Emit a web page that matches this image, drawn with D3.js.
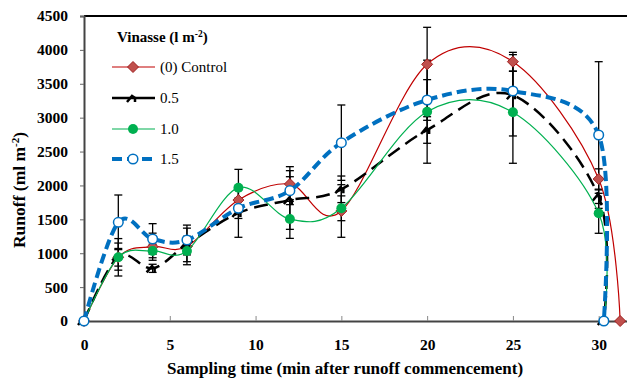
<!DOCTYPE html>
<html>
<head>
<meta charset="utf-8">
<script src="https://cdn.jsdelivr.net/npm/d3@7"></script>
<style>
  body { margin: 0; background: #fff; }
  svg text { font-family: "Liberation Serif", "Times New Roman", serif; }
</style>
</head>
<body>
<div id="chart"></div>
<script>
// sampling times (min)
const times = [0, 2, 4, 6, 9, 12, 15, 20, 25, 30];
const endControl = 31.25;
const endOther = 30.3;

const control = [0, 940, 1096, 1100, 1785, 2021, 1623, 3787, 3826, 2095];
const half = [0, 950, 777, 1130, 1593, 1785, 1943, 2818, 3330, 1834];
const one = [0, 940, 1033, 1033, 1967, 1505, 1663, 3088, 3079, 1589];
const oneHalf = [0, 1456, 1210, 1195, 1663, 1923, 2631, 3261, 3393, 2744];

const errControl = [0, 130, 200, 270, 150, 256, 388, 546, 138, 150];
const errHalf = [0, 200, 60, 120, 358, 433, 196, 196, 600, 100];
const errOne = [0, 276, 100, 158, 270, 286, 183, 760, 752, 295];
const errOneHalf = [0, 403, 226, 220, 150, 206, 556, 300, 290, 1082];

const yTicks = [0, 500, 1000, 1500, 2000, 2500, 3000, 3500, 4000, 4500];
const xTicks = [0, 5, 10, 15, 20, 25, 30];

const width = 627, height = 379;
const margin = { top: 16, right: -6, bottom: 58, left: 84 };
const innerWidth = width - margin.left - margin.right;
const innerHeight = height - margin.top - margin.bottom;

const svg = d3.select("#chart").append("svg")
  .attr("width", width)
  .attr("height", height);

const g = svg.append("g")
  .attr("transform", `translate(${margin.left},${margin.top})`);

const x = d3.scaleLinear().domain([0, 32]).range([0, innerWidth]);
const y = d3.scaleLinear().domain([0, 4500]).range([innerHeight, 0]);

// frame
g.append("line").attr("x1", 0).attr("x2", innerWidth).attr("y1", 0).attr("y2", 0)
  .attr("stroke", "#000").attr("stroke-width", 2);

// axes
const yAxis = g.append("g")
  .call(d3.axisLeft(y).tickValues(yTicks).tickSize(4).tickPadding(12).tickFormat(d3.format("d")));
yAxis.select(".domain").attr("stroke", "#444").attr("stroke-width", 2);
yAxis.selectAll(".tick line").attr("stroke", "#666");
yAxis.selectAll("text").attr("font-size", 15.5).attr("font-weight", "bold").attr("fill", "#000");

const xAxis = g.append("g")
  .attr("transform", `translate(0,${innerHeight})`)
  .call(d3.axisBottom(x).tickValues(xTicks).tickSize(-5).tickPadding(18));
xAxis.select(".domain").attr("stroke", "#444").attr("stroke-width", 2);
xAxis.selectAll(".tick line").attr("stroke", "#888");
xAxis.selectAll("text").attr("font-size", 15.5).attr("font-weight", "bold").attr("fill", "#000");

// titles
svg.append("text")
  .attr("x", 345).attr("y", 374)
  .attr("text-anchor", "middle")
  .attr("font-size", 17).attr("font-weight", "bold")
  .text("Sampling time (min after runoff commencement)");

const yt = svg.append("text")
  .attr("transform", "translate(25,190) rotate(-90)")
  .attr("text-anchor", "middle")
  .attr("font-size", 17.5).attr("font-weight", "bold");
yt.append("tspan").text("Runoff (ml m");
yt.append("tspan").attr("dy", -6).attr("font-size", 11).text("-2");
yt.append("tspan").attr("dy", 6).text(")");

const series = [
  { name: "(0) Control", vals: control, err: errControl, end: endControl,
    color: "#c00000", width: 1.2, dash: null, marker: "diamond" },
  { name: "0.5", vals: half, err: errHalf, end: endOther,
    color: "#000", width: 2.5, dash: "14,7", marker: "chevron" },
  { name: "1.0", vals: one, err: errOne, end: endOther,
    color: "#00b050", width: 1.2, dash: null, marker: "dot" },
  { name: "1.5", vals: oneHalf, err: errOneHalf, end: endOther,
    color: "#0070c0", width: 4, dash: "10,5", marker: "ring" }
];

const line = d3.line().x(d => x(d[0])).y(d => y(d[1])).curve(d3.curveCardinal.tension(0));

function pointsOf(s) {
  const pts = times.map((t, i) => [t, s.vals[i]]);
  pts.push([s.end, 0]);
  return pts;
}

function drawMarker(sel, s) {
  if (s.marker === "diamond") {
    sel.append("path").attr("d", "M0,-5.5L5.5,0L0,5.5L-5.5,0Z")
      .attr("fill", "#c0504d").attr("stroke", "#a02020").attr("stroke-width", 1);
  } else if (s.marker === "chevron") {
    sel.append("path").attr("d", "M-6,4L-1,-2L2,0L2,4")
      .attr("fill", "none").attr("stroke", "#000").attr("stroke-width", 2.5);
  } else if (s.marker === "dot") {
    sel.append("circle").attr("r", 5).attr("fill", "#00b050");
  } else {
    sel.append("circle").attr("r", 4.8).attr("fill", "#fff")
      .attr("stroke", "#0070c0").attr("stroke-width", 1.5);
  }
}

// error bars
series.forEach(s => {
  const eb = g.append("g").attr("stroke", "#000").attr("stroke-width", 1.3);
  times.forEach((t, i) => {
    const e = s.err[i];
    if (!e) return;
    const cx = x(t);
    eb.append("line").attr("x1", cx).attr("x2", cx)
      .attr("y1", y(s.vals[i] + e)).attr("y2", y(s.vals[i] - e));
    [s.vals[i] + e, s.vals[i] - e].forEach(v => {
      eb.append("line").attr("x1", cx - 4).attr("x2", cx + 4)
        .attr("y1", y(v)).attr("y2", y(v));
    });
  });
});

// lines and markers
series.forEach(s => {
  const pts = pointsOf(s);
  g.append("path")
    .datum(pts)
    .attr("fill", "none")
    .attr("stroke", s.color)
    .attr("stroke-width", s.width)
    .attr("stroke-dasharray", s.dash)
    .attr("d", line);
  g.selectAll(null)
    .data(pts)
    .enter().append("g")
    .attr("transform", d => `translate(${x(d[0])},${y(d[1])})`)
    .each(function () { drawMarker(d3.select(this), s); });
});

// legend
const legend = svg.append("g");
const lt = legend.append("text").attr("x", 117).attr("y", 42)
  .attr("font-size", 15).attr("font-weight", "bold");
lt.append("tspan").text("Vinasse (l m");
lt.append("tspan").attr("dy", -5).attr("font-size", 9.5).text("-2");
lt.append("tspan").attr("dy", 5).text(")");

const legendY = [67, 98, 129, 159];
series.forEach((s, i) => {
  const ly = legendY[i];
  legend.append("line").attr("x1", 112).attr("x2", 155).attr("y1", ly).attr("y2", ly)
    .attr("stroke", s.color).attr("stroke-width", s.width)
    .attr("stroke-dasharray", s.marker === "ring" ? "10,5" : null);
  const m = legend.append("g").attr("transform", `translate(133,${ly})`);
  drawMarker(m, s);
  legend.append("text").attr("x", 160).attr("y", ly + 5)
    .attr("font-size", 15).text(s.name);
});
</script>
</body>
</html>
